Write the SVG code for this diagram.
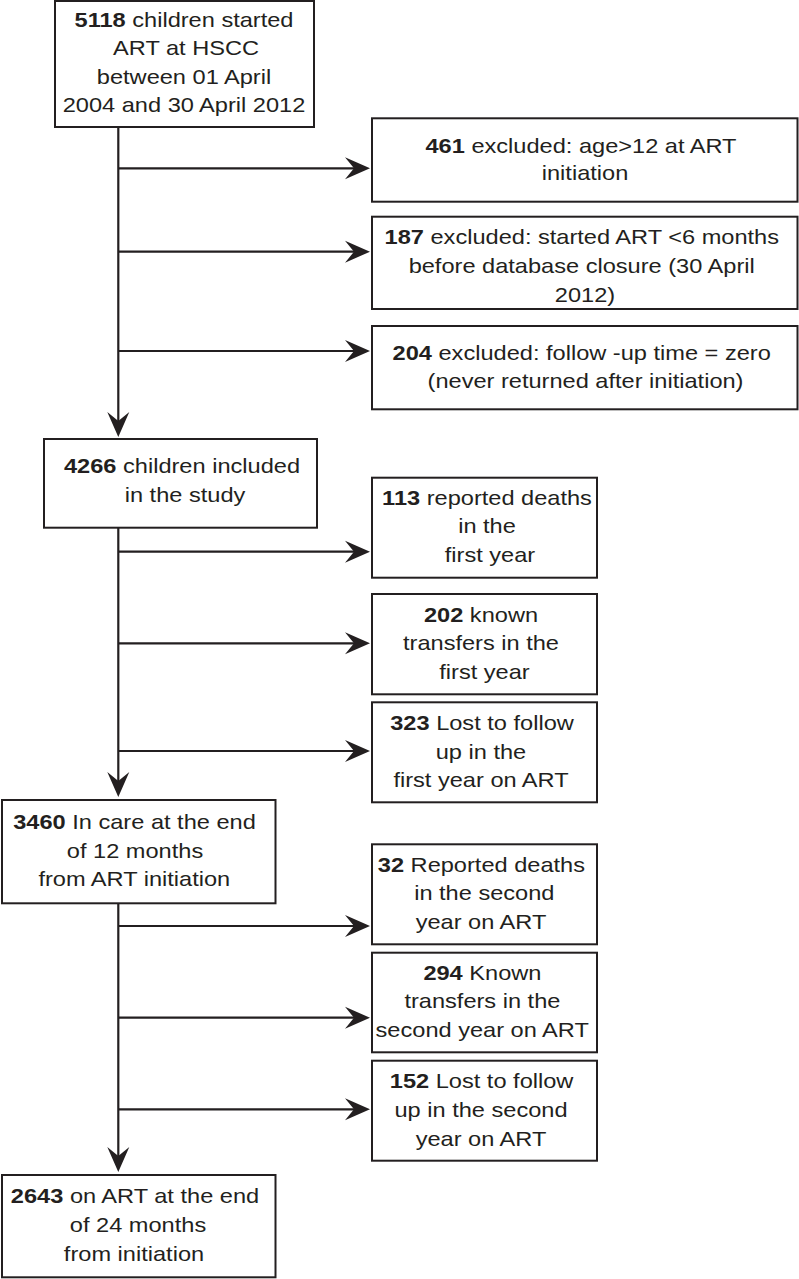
<svg xmlns="http://www.w3.org/2000/svg" width="799" height="1279" viewBox="0 0 799 1279">
<style>
.box{fill:#fff;stroke:#231f20;stroke-width:2}
.con{stroke:#231f20;stroke-width:2.2;fill:none}
text{font-family:"Liberation Sans",Arial,sans-serif;font-size:20px;fill:#231f20;text-anchor:middle}
.b{font-weight:bold}
</style>
<defs>
<marker id="ah" markerUnits="userSpaceOnUse" markerWidth="30" markerHeight="26" viewBox="-26 -13 28 26" refX="-16" refY="0" orient="auto">
<path d="M0,0 L-25,-11 L-16,0 L-25,11 Z" fill="#231f20"/>
</marker>
</defs>
<rect width="799" height="1279" fill="#fff"/>
<g id="connectors">
<line class="con" x1="118.3" y1="127" x2="118.3" y2="421" marker-end="url(#ah)"/>
<line class="con" x1="118.3" y1="168.3" x2="354" y2="168.3" marker-end="url(#ah)"/>
<line class="con" x1="118.3" y1="251.7" x2="354" y2="251.7" marker-end="url(#ah)"/>
<line class="con" x1="118.3" y1="351" x2="354" y2="351" marker-end="url(#ah)"/>
<line class="con" x1="118.3" y1="527.7" x2="118.3" y2="781" marker-end="url(#ah)"/>
<line class="con" x1="118.3" y1="551.7" x2="354" y2="551.7" marker-end="url(#ah)"/>
<line class="con" x1="118.3" y1="643.3" x2="354" y2="643.3" marker-end="url(#ah)"/>
<line class="con" x1="118.3" y1="751" x2="354" y2="751" marker-end="url(#ah)"/>
<line class="con" x1="118.3" y1="903.3" x2="118.3" y2="1156" marker-end="url(#ah)"/>
<line class="con" x1="118.3" y1="926" x2="354" y2="926" marker-end="url(#ah)"/>
<line class="con" x1="118.3" y1="1017.7" x2="354" y2="1017.7" marker-end="url(#ah)"/>
<line class="con" x1="118.3" y1="1109.3" x2="354" y2="1109.3" marker-end="url(#ah)"/>
</g>
<g id="n5118">
<rect class="box" x="55" y="1" width="259" height="126"/>
<text transform="translate(184,27) scale(1.18,1)"><tspan class="b">5118</tspan> children started</text>
<text transform="translate(186,55.3) scale(1.18,1)">ART at HSCC</text>
<text transform="translate(184,83.6) scale(1.18,1)">between 01 April</text>
<text transform="translate(184,112) scale(1.18,1)">2004 and 30 April 2012</text>
</g>
<g id="n461">
<rect class="box" x="372" y="118.3" width="425.5" height="83.4"/>
<text transform="translate(581,152.7) scale(1.18,1)"><tspan class="b">461</tspan> excluded: age&gt;12 at ART</text>
<text transform="translate(585,180) scale(1.18,1)">initiation</text>
</g>
<g id="n187">
<rect class="box" x="372" y="216.7" width="425.5" height="92.3"/>
<text transform="translate(581.8,244.3) scale(1.18,1)"><tspan class="b">187</tspan> excluded: started ART &lt;6 months</text>
<text transform="translate(581.7,272.7) scale(1.18,1)">before database closure (30 April</text>
<text transform="translate(585,301.7) scale(1.18,1)">2012)</text>
</g>
<g id="n204">
<rect class="box" x="372" y="326" width="425.5" height="83.3"/>
<text transform="translate(581.7,360) scale(1.18,1)"><tspan class="b">204</tspan> excluded: follow -up time = zero</text>
<text transform="translate(585.5,388.3) scale(1.18,1)">(never returned after initiation)</text>
</g>
<g id="n4266">
<rect class="box" x="44" y="439" width="273" height="88.7"/>
<text transform="translate(182,473.3) scale(1.18,1)"><tspan class="b">4266</tspan> children included</text>
<text transform="translate(185,501.7) scale(1.18,1)">in the study</text>
</g>
<g id="n113">
<rect class="box" x="372" y="477.7" width="225" height="100"/>
<text transform="translate(487,505) scale(1.18,1)"><tspan class="b">113</tspan> reported deaths</text>
<text transform="translate(487,533.3) scale(1.18,1)">in the</text>
<text transform="translate(490,562.3) scale(1.18,1)">first year</text>
</g>
<g id="n202">
<rect class="box" x="372" y="594" width="225" height="100.3"/>
<text transform="translate(481,621.7) scale(1.18,1)"><tspan class="b">202</tspan> known</text>
<text transform="translate(481,650) scale(1.18,1)">transfers in the</text>
<text transform="translate(484.5,679) scale(1.18,1)">first year</text>
</g>
<g id="n323">
<rect class="box" x="372" y="702.3" width="225" height="100"/>
<text transform="translate(482,730) scale(1.18,1)"><tspan class="b">323</tspan> Lost to follow</text>
<text transform="translate(481,759) scale(1.18,1)">up in the</text>
<text transform="translate(481,787.3) scale(1.18,1)">first year on ART</text>
</g>
<g id="n3460">
<rect class="box" x="2" y="800" width="273.5" height="103.3"/>
<text transform="translate(134.5,829.3) scale(1.18,1)"><tspan class="b">3460</tspan> In care at the end</text>
<text transform="translate(135,857.7) scale(1.18,1)">of 12 months</text>
<text transform="translate(134.3,886) scale(1.18,1)">from ART initiation</text>
</g>
<g id="n32">
<rect class="box" x="372" y="844.3" width="225" height="100"/>
<text transform="translate(481.4,871.7) scale(1.18,1)"><tspan class="b">32</tspan> Reported deaths</text>
<text transform="translate(484.3,900) scale(1.18,1)">in the second</text>
<text transform="translate(481,929) scale(1.18,1)">year on ART</text>
</g>
<g id="n294">
<rect class="box" x="372" y="952.7" width="225" height="99.6"/>
<text transform="translate(482.4,980) scale(1.18,1)"><tspan class="b">294</tspan> Known</text>
<text transform="translate(482.4,1008.3) scale(1.18,1)">transfers in the</text>
<text transform="translate(482.2,1037.3) scale(1.18,1)">second year on ART</text>
</g>
<g id="n152">
<rect class="box" x="372" y="1060.7" width="225" height="100"/>
<text transform="translate(481.6,1088.3) scale(1.18,1)"><tspan class="b">152</tspan> Lost to follow</text>
<text transform="translate(481,1116.7) scale(1.18,1)">up in the second</text>
<text transform="translate(481,1145.7) scale(1.18,1)">year on ART</text>
</g>
<g id="n2643">
<rect class="box" x="2" y="1175" width="273.5" height="102.3"/>
<text transform="translate(135,1203.3) scale(1.18,1)"><tspan class="b">2643</tspan> on ART at the end</text>
<text transform="translate(138,1232.3) scale(1.18,1)">of 24 months</text>
<text transform="translate(134,1260.7) scale(1.18,1)">from initiation</text>
</g>
</svg>
